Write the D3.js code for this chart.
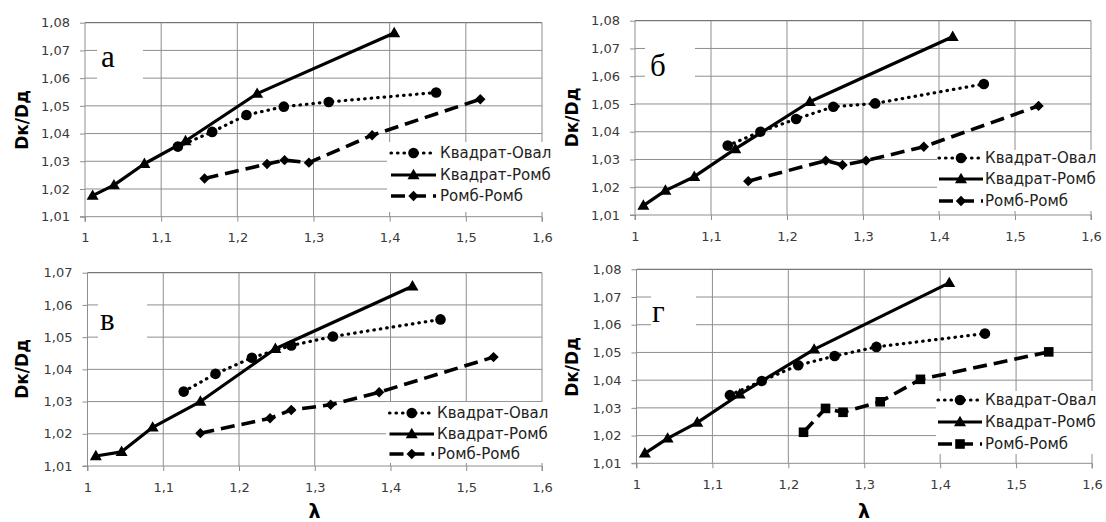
<!DOCTYPE html>
<html><head><meta charset="utf-8">
<script src="https://cdn.jsdelivr.net/npm/d3@7"></script>
<style>body{margin:0;background:#fff}svg{display:block}</style>
</head><body>
<svg id="c" width="1106" height="522"></svg>
<script>
// ---------- data ----------
const seriesNames = ["Квадрат-Овал", "Квадрат-Ромб", "Ромб-Ромб"];
const panelLetters = ["а", "б", "в", "г"];
const xTickValues = [1, 1.1, 1.2, 1.3, 1.4, 1.5, 1.6];
const yTicksTo108 = [1.01, 1.02, 1.03, 1.04, 1.05, 1.06, 1.07, 1.08];
const yTicksTo107 = [1.01, 1.02, 1.03, 1.04, 1.05, 1.06, 1.07];
const yTitle = "Dк/Dд";
const xTitle = "λ";

// panel а
const aOvalX = [1.122, 1.167, 1.212, 1.261, 1.320, 1.461];
const aOvalY = [1.0353, 1.0406, 1.0467, 1.0497, 1.0514, 1.0548];
const aRhombX = [1.010, 1.038, 1.078, 1.132, 1.226, 1.406];
const aRhombY = [1.0176, 1.0214, 1.0291, 1.0373, 1.0544, 1.0763];
const aRRX = [1.157, 1.239, 1.262, 1.294, 1.377, 1.519];
const aRRY = [1.0238, 1.0290, 1.0304, 1.0295, 1.0394, 1.0524];
// panel б
const bOvalX = [1.122, 1.165, 1.212, 1.261, 1.316, 1.459];
const bOvalY = [1.0350, 1.0400, 1.0446, 1.0490, 1.0502, 1.0572];
const bRhombX = [1.011, 1.040, 1.078, 1.132, 1.230, 1.418];
const bRhombY = [1.0134, 1.0188, 1.0238, 1.0338, 1.0508, 1.0742];
const bRRX = [1.149, 1.251, 1.273, 1.304, 1.380, 1.531];
const bRRY = [1.0222, 1.0296, 1.0280, 1.0296, 1.0346, 1.0493];
// panel в
const cOvalX = [1.127, 1.169, 1.217, 1.269, 1.324, 1.466];
const cOvalY = [1.0331, 1.0386, 1.0436, 1.0474, 1.0502, 1.0555];
const cRhombX = [1.011, 1.045, 1.086, 1.149, 1.248, 1.429];
const cRhombY = [1.0131, 1.0144, 1.0220, 1.0300, 1.0464, 1.0658];
const cRRX = [1.149, 1.241, 1.269, 1.321, 1.385, 1.536];
const cRRY = [1.0202, 1.0248, 1.0274, 1.0290, 1.0329, 1.0438];
// panel г
const dOvalX = [1.123, 1.165, 1.213, 1.261, 1.316, 1.459];
const dOvalY = [1.0346, 1.0397, 1.0454, 1.0487, 1.0520, 1.0568];
const dRhombX = [1.011, 1.041, 1.080, 1.136, 1.234, 1.412];
const dRhombY = [1.0136, 1.0190, 1.0247, 1.0349, 1.0511, 1.0751];
const dRRX = [1.220, 1.249, 1.272, 1.321, 1.374, 1.543];
const dRRY = [1.0212, 1.0298, 1.0284, 1.0322, 1.0403, 1.0502];

// ---------- layout / style (not data) ----------
const panels = [
  {letter: panelLetters[0], x0: 85, x1: 542, yb: 216.7, yt: 22.7, yTicks: yTicksTo108,
   series: [[aOvalX, aOvalY], [aRhombX, aRhombY], [aRRX, aRRY]], rrMarker: "diamond",
   box: [97, 32, 46, 52], letterPos: [101, 67],
   leg: {rect: [387, 142, 180, 70], rows: [153, 175, 196], s0: 391, s1: 436, tx: 440},
   yTitle: [28, 120], xTitle: null},
  {letter: panelLetters[1], x0: 635, x1: 1091, yb: 215, yt: 20.7, yTicks: yTicksTo108,
   series: [[bOvalX, bOvalY], [bRhombX, bRhombY], [bRRX, bRRY]], rrMarker: "diamond",
   box: [645, 43, 50, 47], letterPos: [650, 76],
   leg: {rect: [937, 150, 169, 61], rows: [158, 179, 201], s0: 939, s1: 983, tx: 985},
   yTitle: [578, 117.5], xTitle: null},
  {letter: panelLetters[2], x0: 87.5, x1: 542, yb: 466, yt: 272.7, yTicks: yTicksTo107,
   series: [[cOvalX, cOvalY], [cRhombX, cRhombY], [cRRX, cRRY]], rrMarker: "diamond",
   box: [98, 295, 49, 43], letterPos: [100, 329.5],
   leg: {rect: [386, 402, 180, 61], rows: [413, 434, 454], s0: 389.5, s1: 434, tx: 437},
   yTitle: [28, 369], xTitle: [314.5, 518]},
  {letter: panelLetters[3], x0: 636.5, x1: 1092, yb: 463.3, yt: 269.3, yTicks: yTicksTo108,
   series: [[dOvalX, dOvalY], [dRhombX, dRhombY], [dRRX, dRRY]], rrMarker: "square",
   box: [651, 290, 45, 44], letterPos: [652, 322],
   leg: {rect: [936, 391, 170, 63], rows: [400, 422, 444], s0: 938, s1: 982, tx: 985},
   yTitle: [578, 367], xTitle: [864, 518]}
];

const lineStyles = [
  {width: 3.2, dash: "0.5,6", cap: "round"},
  {width: 3.2, dash: null, cap: "butt"},
  {width: 3.6, dash: "14,7", cap: "butt"}
];

const svg = d3.select("#c");
const gridColor = "#8e8e8e";
const tickText = "#3a3a3a";
const fmt = d => String(d).replace(".", ",");
const fmtY = d => d3.format(".2f")(d).replace(".", ",");

function markerPath(type) {
  if (type === "circle") return d3.symbol().type(d3.symbolCircle).size(Math.PI * 5.3 * 5.3)();
  if (type === "triangle") return "M0,-6.2L6,4.2L-6,4.2Z";
  if (type === "diamond") return "M0,-5.2L5.2,0L0,5.2L-5.2,0Z";
  return "M-4.8,-4.8H4.8V4.8H-4.8Z";
}

panels.forEach(p => {
  const g = svg.append("g");
  const yMax = p.yTicks[p.yTicks.length - 1];
  const x = d3.scaleLinear().domain([1, 1.6]).range([p.x0, p.x1]);
  const y = d3.scaleLinear().domain([1.01, yMax]).range([p.yb, p.yt]);

  // gridlines
  g.append("g").selectAll("line").data(p.yTicks.slice(1)).join("line")
    .attr("x1", p.x0).attr("x2", p.x1).attr("y1", d => y(d)).attr("y2", d => y(d))
    .attr("stroke", (d) => d === yMax ? "#555" : gridColor).attr("stroke-width", 1);
  g.append("g").selectAll("line").data(xTickValues.slice(1)).join("line")
    .attr("x1", d => x(d)).attr("x2", d => x(d)).attr("y1", p.yt).attr("y2", p.yb)
    .attr("stroke", gridColor).attr("stroke-width", 1);

  // axes
  const xa = g.append("g").attr("transform", `translate(0,${p.yb})`)
    .call(d3.axisBottom(x).tickValues(xTickValues).tickFormat(fmt).tickSize(5).tickPadding(11.5));
  const ya = g.append("g").attr("transform", `translate(${p.x0},0)`)
    .call(d3.axisLeft(y).tickValues(p.yTicks).tickFormat(fmtY).tickSize(5).tickPadding(10));
  [xa, ya].forEach(a => {
    a.select(".domain").attr("stroke", gridColor).attr("stroke-width", 1);
    a.selectAll(".tick line").attr("stroke", gridColor);
    a.selectAll("text").attr("font-family", "DejaVu Sans").attr("font-size", 13)
      .attr("fill", tickText);
  });
  ya.select(".domain").attr("d", `M-5,${p.yb}H0V${p.yt}`);
  xa.select(".domain").attr("d", `M${p.x0},5V0H${p.x1}V5`);

  // series lines
  p.series.forEach((s, i) => {
    const pts = s[0].map((v, k) => [v, s[1][k]]);
    const st = lineStyles[i];
    g.append("path").datum(pts)
      .attr("d", d3.line().x(d => x(d[0])).y(d => y(d[1])))
      .attr("fill", "none").attr("stroke", "#000").attr("stroke-width", st.width)
      .attr("stroke-dasharray", st.dash).attr("stroke-linecap", st.cap)
      .attr("stroke-linejoin", "round");
  });
  // markers
  const mTypes = ["circle", "triangle", p.rrMarker];
  p.series.forEach((s, i) => {
    const pts = s[0].map((v, k) => [v, s[1][k]]);
    g.append("g").selectAll("path").data(pts).join("path")
      .attr("d", markerPath(mTypes[i]))
      .attr("transform", d => `translate(${x(d[0])},${y(d[1])})`)
      .attr("fill", "#000");
  });

  // panel letter box
  g.append("rect").attr("x", p.box[0]).attr("y", p.box[1]).attr("width", p.box[2])
    .attr("height", p.box[3]).attr("fill", "#fff");
  g.append("text").attr("x", p.letterPos[0]).attr("y", p.letterPos[1])
    .attr("font-family", "Liberation Serif").attr("font-size", 31).attr("fill", "#000")
    .text(p.letter);

  // legend
  const L = p.leg;
  g.append("rect").attr("x", L.rect[0]).attr("y", L.rect[1]).attr("width", L.rect[2])
    .attr("height", L.rect[3]).attr("fill", "#fff");
  seriesNames.forEach((name, i) => {
    const st = lineStyles[i];
    const ry = L.rows[i];
    g.append("line").attr("x1", L.s0).attr("x2", L.s1).attr("y1", ry).attr("y2", ry)
      .attr("stroke", "#000").attr("stroke-width", st.width)
      .attr("stroke-dasharray", st.dash).attr("stroke-linecap", st.cap);
    g.append("path").attr("d", markerPath(mTypes[i]))
      .attr("transform", `translate(${(L.s0 + L.s1) / 2},${ry})`).attr("fill", "#000");
    g.append("text").attr("x", L.tx).attr("y", ry).attr("dy", "0.36em")
      .attr("font-family", "DejaVu Sans").attr("font-size", 15).attr("fill", "#222")
      .text(name);
  });

  // axis titles
  g.append("text").attr("transform", `translate(${p.yTitle[0]},${p.yTitle[1]}) rotate(-90)`)
    .attr("text-anchor", "middle").attr("font-family", "DejaVu Sans").attr("font-weight", "bold")
    .attr("font-size", 17).attr("fill", "#000").text(yTitle);
  if (p.xTitle) {
    g.append("text").attr("x", p.xTitle[0]).attr("y", p.xTitle[1]).attr("text-anchor", "middle")
      .attr("font-family", "DejaVu Sans").attr("font-weight", "bold").attr("font-size", 19)
      .attr("fill", "#000").text(xTitle);
  }
});
</script>
</body></html>
